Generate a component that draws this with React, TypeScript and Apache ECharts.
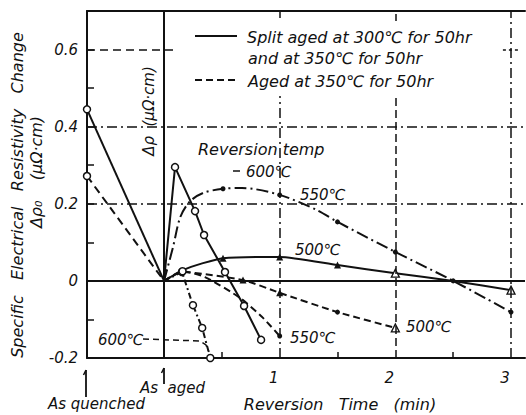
import React, { useEffect, useRef } from "react";
import * as echarts from "echarts";

// ---------------- data (x: reversion time in min, y: Δρ in μΩ·cm) ----------------
const xMin = -0.666; // "As quenched" position on the time scale
const xMax = 3.121;
const yMin = -0.2;
const yMax = 0.7;

const quenchSolid = [[-0.666, 0.445], [0, 0]];
const quenchDashed = [[-0.666, 0.272], [0, 0]];

// Split aged at 300℃ + 350℃ (solid family)
const split600 = [[0, 0], [0.095, 0.295], [0.268, 0.181], [0.346, 0.119], [0.527, 0.023], [0.692, -0.065], [0.839, -0.153]];
const split550 = [[0, 0], [0.078, 0.088], [0.14, 0.165], [0.22, 0.205], [0.337, 0.228], [0.51, 0.239], [0.674, 0.241], [1, 0.223], [1.32, 0.184], [1.5, 0.153], [2, 0.075], [2.5, 0], [3, -0.081]];
const split500 = [[0, 0], [0.164, 0.028], [0.337, 0.046], [0.51, 0.059], [1, 0.062], [1.5, 0.041], [2, 0.02], [2.5, 0], [3, -0.024]];

// Aged at 350℃ (dashed family)
const aged600 = [[0, 0], [0.155, 0.023], [0.25, -0.063], [0.33, -0.122], [0.4, -0.2]];
const aged550 = [[0, 0], [0.16, 0.025], [0.354, 0.01], [0.657, -0.044], [0.856, -0.096], [1, -0.143]];
const aged500 = [[0, 0], [0.156, 0.023], [0.683, 0.002], [1, -0.031], [1.5, -0.081], [2, -0.122]];

const yLabelValues = [-0.2, 0, 0.2, 0.4, 0.6];
const yLabelTexts = ["-0.2", "0", "0.2", "0.4", "0.6"];
const yTickValues = [-0.2, -0.1, 0, 0.1, 0.2, 0.3, 0.4, 0.5, 0.6];
const xLabelValues = [1, 2, 3];
const xTickValues = [0.5, 1.5, 2.5];
const gridX = [0, 1, 2, 3];
const gridY = [0, 0.2, 0.4];

// ---------------- marker kinds per point (style, kept apart from values) ----------------
const quenchMarks = "o-";
const split600Marks = "-oooooo";
const split550Marks = "-----.-.-....";
const split500Marks = "---^^^A-A";
const aged600Marks = "-oooo";
const aged550Marks = "-o---.";
const aged500Marks = "--^^.A";

const FONT = "'DejaVu Sans', 'Liberation Sans', sans-serif";
const INK = "#111";

const SYMBOLS: Record<string, any> = {
  "-": { symbol: "none", size: 0, itemStyle: {} },
  o: { symbol: "circle", size: 7, itemStyle: { color: "#fff", borderColor: INK, borderWidth: 1.5 } },
  ".": { symbol: "circle", size: 5, itemStyle: { color: INK, borderWidth: 0 } },
  "^": { symbol: "triangle", size: 7, itemStyle: { color: INK, borderWidth: 0 } },
  A: { symbol: "triangle", size: 8, itemStyle: { color: "#fff", borderColor: INK, borderWidth: 1.3 } },
};

function mkData(points: number[][], marks: string) {
  return points.map((p, i) => {
    const s = SYMBOLS[marks[i] || "-"];
    return { value: p, symbol: s.symbol, symbolSize: s.size, itemStyle: s.itemStyle };
  });
}

function lineSeries(name: string, points: number[][], marks: string, type: any, extra: any = {}) {
  return {
    name,
    type: "line",
    data: mkData(points, marks),
    symbol: "none",
    lineStyle: { color: INK, width: 2, type },
    itemStyle: { color: INK },
    silent: true,
    z: 3,
    ...extra,
  };
}

function txt(text: string, x: number, y: number, opts: any = {}) {
  const align = opts.align || "left";
  return {
    type: "text",
    x,
    y,
    z: 120,
    rotation: opts.rot || 0,
    silent: true,
    style: {
      text,
      fill: INK,
      fontSize: opts.size || 15,
      fontStyle: "italic",
      fontFamily: FONT,
      align,
      textAlign: align,
      verticalAlign: "middle",
      textVerticalAlign: "middle",
    },
  };
}

function seg(points: number[][], dash?: number[], width = 1.6) {
  return {
    type: "polyline",
    z: 120,
    silent: true,
    shape: { points },
    style: { stroke: INK, lineWidth: width, fill: null, lineDash: dash || null },
  };
}

const dashDot = [10, 4, 2, 4];

export default function App() {
  const ref = useRef<HTMLDivElement>(null);

  useEffect(() => {
    if (!ref.current) return;
    const chart = echarts.init(ref.current, null, { renderer: "svg" });

    const gridLines: any[] = [];
    gridX.forEach((x) => {
      const style =
        x === 0
          ? { type: "solid", width: 2 }
          : x === 2
          ? { type: [8, 4], width: 1.5 }
          : { type: dashDot, width: 1.5 };
      gridLines.push([
        { coord: [x, yMin], lineStyle: { color: INK, ...style } },
        { coord: [x, yMax] },
      ]);
    });
    gridY.forEach((y) => {
      const style = y === 0 ? { type: "solid", width: 2 } : { type: dashDot, width: 1.5 };
      gridLines.push([
        { coord: [xMin, y], lineStyle: { color: INK, ...style } },
        { coord: [xMax, y] },
      ]);
    });
    gridLines.push([
      { coord: [xMin, 0.6], lineStyle: { color: INK, type: [8, 5], width: 1.5 } },
      { coord: [0.09, 0.6] },
    ]);
    gridLines.push([
      { coord: [2.93, 0.6], lineStyle: { color: INK, type: [3, 3], width: 1.5 } },
      { coord: [3.07, 0.6] },
    ]);

    const axisFont = { fontStyle: "italic", fontFamily: FONT, fontSize: 15, color: INK };

    const option: any = {
      animation: false,
      backgroundColor: "#fff",
      grid: { left: 87, top: 11, width: 438, height: 347, containLabel: false },
      xAxis: [
        {
          type: "value",
          min: xMin,
          max: xMax,
          position: "bottom",
          axisLine: { show: true, onZero: false, lineStyle: { color: INK, width: 2 } },
          axisTick: { show: true, inside: true, length: 6, customValues: xTickValues, lineStyle: { color: INK, width: 1.5 } },
          axisLabel: {
            show: true,
            margin: 12,
            padding: [0, 12, 0, 0],
            customValues: xLabelValues,
            formatter: (v: number) => String(v),
            ...axisFont,
          },
          splitLine: { show: false },
        },
        {
          type: "value",
          min: xMin,
          max: xMax,
          position: "top",
          axisLine: { show: true, onZero: false, lineStyle: { color: INK, width: 2 } },
          axisTick: { show: false },
          axisLabel: { show: false },
          splitLine: { show: false },
        },
      ],
      yAxis: {
        type: "value",
        min: yMin,
        max: yMax,
        axisLine: { show: true, onZero: false, lineStyle: { color: INK, width: 2 } },
        axisTick: { show: true, inside: true, length: 7, customValues: yTickValues, lineStyle: { color: INK, width: 1.5 } },
        axisLabel: {
          show: true,
          margin: 9,
          customValues: yLabelValues,
          formatter: (v: number) => {
            const i = yLabelValues.findIndex((u) => Math.abs(u - v) < 1e-6);
            return i >= 0 ? yLabelTexts[i] : "";
          },
          ...axisFont,
        },
        splitLine: { show: false },
      },
      series: [
        {
          name: "grid",
          type: "line",
          data: [],
          silent: true,
          z: 1,
          markLine: {
            silent: true,
            symbol: ["none", "none"],
            label: { show: false },
            emphasis: { disabled: true },
            data: gridLines,
          },
        },
        lineSeries("As quenched → aged (split)", quenchSolid, quenchMarks, "solid"),
        lineSeries("As quenched → aged (350℃)", quenchDashed, quenchMarks, [8, 5]),
        lineSeries("Split aged, 600℃", split600, split600Marks, "solid"),
        lineSeries("Split aged, 550℃", split550, split550Marks, [12, 4, 2, 4], { smooth: 0.3 }),
        lineSeries("Split aged, 500℃", split500, split500Marks, "solid", { smooth: 0.2 }),
        lineSeries("Aged 350℃, 600℃", aged600, aged600Marks, [6, 3, 2, 3]),
        lineSeries("Aged 350℃, 550℃", aged550, aged550Marks, [7, 4], { smooth: 0.2 }),
        lineSeries("Aged 350℃, 500℃", aged500, aged500Marks, [7, 4], { smooth: 0.2 }),
      ],
      graphic: {
        elements: [
          // legend box (white, hides grid lines behind it)
          { type: "rect", z: 100, silent: true, shape: { x: 186, y: 21, width: 312, height: 75 }, style: { fill: "#fff" } },
          seg([[195, 36], [237, 36]], undefined, 2),
          txt("Split aged at 300℃ for 50hr", 247, 37, { size: 16 }),
          txt("and at 350℃ for 50hr", 248, 58, { size: 16 }),
          seg([[195, 80], [237, 80]], [7, 4], 2),
          txt("Aged at 350℃ for 50hr", 248, 81, { size: 16 }),

          // curve annotations
          txt("Reversion temp", 198, 149, { size: 16 }),
          seg([[233, 171], [240, 171]], undefined, 1.5),
          txt("600℃", 246, 172),
          txt("550℃", 300, 195),
          txt("500℃", 295, 250),
          txt("500℃", 406, 327),
          txt("550℃", 290, 338),
          txt("600℃", 98, 340),
          seg([[143, 339], [200, 341], [206, 345], [209, 352]], [6, 4], 1.5),

          // inner axis label
          txt("Δρ  (μΩ·cm)", 149, 111, { rot: Math.PI / 2, align: "center", size: 15 }),

          // y-axis names
          txt("Specific   Electrical   Resistivity   Change", 17, 195, { rot: Math.PI / 2, align: "center", size: 16 }),
          txt("Δρ₀    (μΩ·cm)", 36, 172, { rot: Math.PI / 2, align: "center", size: 16 }),

          // x-axis annotations
          seg([[164, 384], [164, 368]], undefined, 1.8),
          seg([[161.5, 373], [164, 368]], undefined, 1.5),
          txt("As  aged", 140, 388),
          seg([[86, 397], [86, 370]], undefined, 1.8),
          seg([[83.5, 375], [86, 370]], undefined, 1.5),
          txt("As quenched", 48, 404),
          txt("Reversion   Time   (min)", 340, 404, { align: "center", size: 16 }),
        ],
      },
    };

    chart.setOption(option);
    return () => chart.dispose();
  }, []);

  return (
    <div
      ref={ref}
      style={{ position: "fixed", left: 0, top: 0, width: 526, height: 415, background: "#fff" }}
    />
  );
}
